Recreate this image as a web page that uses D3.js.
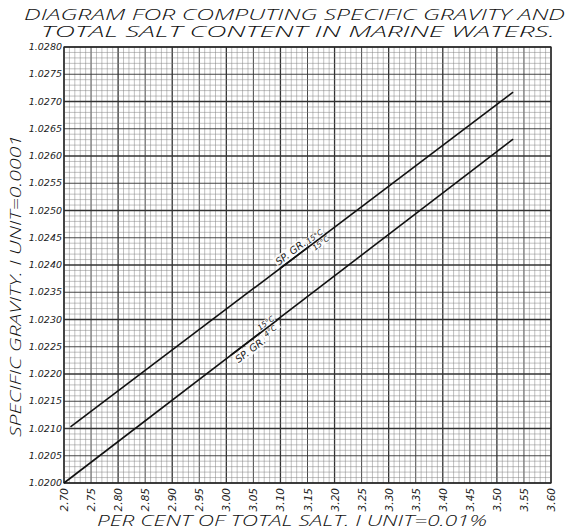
<!DOCTYPE html>
<html>
<head>
<meta charset="utf-8">
<script src="https://cdn.jsdelivr.net/npm/d3@7"></script>
<style>
  body { margin: 0; background: #fff; }
  text { font-family: "DejaVu Sans", sans-serif; font-style: italic; fill: #222; }
  .lettering { font-family: "Open Sans", "DejaVu Sans", sans-serif; font-weight: 300; fill: #111; }
</style>
</head>
<body>
<script>
var w = 573, h = 529;
var mLeft = 64, mRight = 551, mTop = 47, mBottom = 483;

// chart values
var salt = [2.70, 3.53];                 // per cent of total salt
var grav15_15 = [1.02094, 1.02717];      // SP. GR. 15°C / 15°C
var grav15_4 = [1.02000, 1.02631];       // SP. GR. 15°C / 4°C
var saltStart15_15 = 2.712;
var xTicks = d3.range(2.70, 3.601, 0.05);
var yTicks = d3.range(1.0200, 1.02801, 0.0005);

var svg = d3.select("body").append("svg").attr("width", w).attr("height", h);

var xScale = d3.scaleLinear().domain([2.70, 3.60]).range([mLeft, mRight]);
var yScale = d3.scaleLinear().domain([1.0200, 1.0280]).range([mBottom, mTop]);

// graph paper grid
var grid = svg.append("g");
d3.range(0, 91).forEach(function (i) {
    var x = xScale(2.70 + i * 0.01);
    var sw = i % 10 == 0 ? 1.3 : (i % 5 == 0 ? 0.9 : 0.5);
    grid.append("line").attr("x1", x).attr("x2", x).attr("y1", mTop).attr("y2", mBottom)
        .attr("stroke", i % 5 == 0 ? "#333" : "#808080").attr("stroke-width", sw);
});
d3.range(0, 81).forEach(function (i) {
    var y = yScale(1.0200 + i * 0.0001);
    var sw = i % 10 == 0 ? 1.3 : (i % 5 == 0 ? 0.9 : 0.5);
    grid.append("line").attr("x1", mLeft).attr("x2", mRight).attr("y1", y).attr("y2", y)
        .attr("stroke", i % 5 == 0 ? "#333" : "#808080").attr("stroke-width", sw);
});
svg.append("rect").attr("x", mLeft).attr("y", mTop).attr("width", mRight - mLeft).attr("height", mBottom - mTop)
    .attr("fill", "none").attr("stroke", "#222").attr("stroke-width", 1.2);

// the two lines
var slope = (grav15_15[1] - grav15_15[0]) / (salt[1] - salt[0]);
var upper = [[saltStart15_15, grav15_15[0] + slope * (saltStart15_15 - salt[0])], [salt[1], grav15_15[1]]];
var lower = [[salt[0], grav15_4[0]], [salt[1], grav15_4[1]]];
var line = d3.line().x(function (d) { return xScale(d[0]); }).y(function (d) { return yScale(d[1]); });
[upper, lower].forEach(function (d) {
    svg.append("path").attr("d", line(d)).attr("fill", "none").attr("stroke", "#111").attr("stroke-width", 1.6);
});

// line labels: the line itself is the fraction bar
var ang = Math.atan2(yScale(grav15_15[1]) - yScale(grav15_15[0]), xScale(salt[1]) - xScale(salt[0])) * 180 / Math.PI;
function lineLabel(s, gv, den, below) {
    var g = svg.append("g").attr("transform", "translate(" + xScale(s) + "," + yScale(gv) + ") rotate(" + ang + ")");
    var ty = below ? 11 : -3;
    g.append("rect").attr("x", -1).attr("y", ty - 9).attr("width", 36).attr("height", 11).attr("fill", "#fff").attr("opacity", 0.8);
    g.append("rect").attr("x", 36).attr("y", -8).attr("width", 20).attr("height", 16).attr("fill", "#fff").attr("opacity", 0.8);
    g.append("text").attr("x", 0).attr("y", ty).attr("font-size", 10).text("SP. GR.");
    g.append("text").attr("x", 37).attr("y", -2).attr("font-size", 7.5).text("15°C");
    g.append("text").attr("x", 38).attr("y", 7).attr("font-size", 7.5).text(den);
    g.append("line").attr("x1", -1).attr("x2", 57).attr("stroke", "#111").attr("stroke-width", 1.6);
}
var s1 = 3.10, s2 = 3.01;
lineLabel(s1, grav15_15[0] + slope * (s1 - salt[0]), "15°C", false);
lineLabel(s2, grav15_4[0] + (grav15_4[1] - grav15_4[0]) / (salt[1] - salt[0]) * (s2 - salt[0]), "4°C", true);

// y tick labels
svg.append("g").selectAll("text").data(yTicks).enter().append("text")
    .attr("x", mLeft - 2).attr("y", function (d) { return yScale(d) + 3; })
    .attr("text-anchor", "end").attr("font-size", 9.5)
    .text(function (d) { return d.toFixed(4); });

// x tick labels
svg.append("g").selectAll("text").data(xTicks).enter().append("text")
    .attr("transform", function (d) { return "translate(" + (xScale(d) + 4) + "," + (mBottom + 5) + ") rotate(-90)"; })
    .attr("text-anchor", "end").attr("font-size", 10.5)
    .text(function (d) { return d.toFixed(2); });

// titles
svg.append("text").attr("class", "lettering").attr("x", 24).attr("y", 20).attr("font-size", 14).attr("textLength", 541).attr("lengthAdjust", "spacingAndGlyphs")
    .text("DIAGRAM FOR COMPUTING SPECIFIC GRAVITY AND");
svg.append("text").attr("class", "lettering").attr("x", 41).attr("y", 37).attr("font-size", 14).attr("textLength", 514).attr("lengthAdjust", "spacingAndGlyphs")
    .text("TOTAL SALT CONTENT IN MARINE WATERS.");
svg.append("text").attr("class", "lettering").attr("transform", "translate(21,437) rotate(-90)").attr("font-size", 15).attr("textLength", 302).attr("lengthAdjust", "spacingAndGlyphs")
    .text("SPECIFIC GRAVITY.  I UNIT=0.0001");
svg.append("text").attr("class", "lettering").attr("x", 97).attr("y", 526).attr("font-size", 15).attr("textLength", 390).attr("lengthAdjust", "spacingAndGlyphs")
    .text("PER CENT OF TOTAL SALT.  I UNIT=0.01%");
</script>
</body>
</html>
